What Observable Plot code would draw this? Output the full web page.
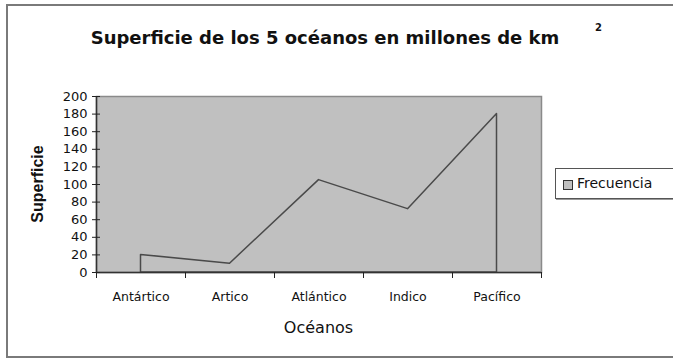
<!DOCTYPE html>
<html>
<head>
<meta charset="utf-8">
<script src="https://cdn.jsdelivr.net/npm/d3@7"></script>
<script src="https://cdn.jsdelivr.net/npm/@observablehq/plot@0.6"></script>
<style>
  body { margin: 0; background: #ffffff; }
  #wrap { position: relative; width: 673px; height: 360px; overflow: hidden; background: #fff; color: #111; }
  #border { position: absolute; left: 6px; top: 4px; width: 720px; height: 354px; border: 2px solid #7a7a7a; box-sizing: border-box; }
  #chart { position: absolute; left: 0; top: 0; }
  #title { position: absolute; left: 0; width: 650px; top: 27px; text-align: center; font: bold 18px "DejaVu Sans", sans-serif; white-space: nowrap; letter-spacing: 0px; }
  #sup { position: absolute; left: 595px; top: 22px; font: bold 10px "DejaVu Sans", sans-serif; }
  #legend { position: absolute; left: 555px; top: 168px; width: 140px; height: 31px; border: 1px solid #555; box-sizing: border-box; background: #fff; font: 14px "DejaVu Sans", sans-serif; box-shadow: 1px 1px 0 #999; }
  #legend .sw { position: absolute; left: 7px; top: 11px; width: 8px; height: 8px; background: #c0c0c0; border: 1px solid #333; }
  #legend .lb { position: absolute; left: 21px; top: 6px; white-space: nowrap; }
</style>
</head>
<body>
<div id="wrap">
  <div id="border"></div>
  <div id="chart"></div>
  <div id="title">Superficie de los 5 océanos en millones de km</div>
  <div id="sup">2</div>
  <div id="legend"><div class="sw"></div><div class="lb"></div></div>
</div>
<script>
const categories = ["Antártico", "Artico", "Atlántico", "Indico", "Pacífico"];
const superficie = [20, 10, 105, 72, 180];
const yTicks = [0, 20, 40, 60, 80, 100, 120, 140, 160, 180, 200];
const seriesName = "Frecuencia";
const xTitle = "Océanos";
const yTitle = "Superficie";

document.querySelector("#legend .lb").textContent = seriesName;

// frequency polygon: drops to zero at the first and last category
const idx = categories.map((c, i) => i + 0.5);
const poly = [
  {x: idx[0], y: 0},
  ...categories.map((c, i) => ({x: idx[i], y: superficie[i]})),
  {x: idx[idx.length - 1], y: 0}
];
const boundaries = d3.range(categories.length + 1);

const chart = Plot.plot({
  width: 673,
  height: 360,
  marginLeft: 96,
  marginRight: 132,
  marginTop: 96,
  marginBottom: 88,
  style: {fontFamily: "DejaVu Sans, sans-serif", fontSize: "12px", color: "#111", background: "transparent", overflow: "visible"},
  x: {type: "linear", domain: [0, categories.length]},
  y: {domain: [0, 200]},
  marks: [
    Plot.frame({fill: "#c0c0c0", stroke: "#8a8a8a", strokeWidth: 1.5}),
    Plot.areaY(poly, {x: "x", y: "y", fill: "#c0c0c0", stroke: "#4a4a4a", strokeWidth: 1.5}),
    Plot.ruleX([0], {stroke: "#333", strokeWidth: 1.5}),
    Plot.ruleY([0], {stroke: "#333", strokeWidth: 1.5}),
    Plot.axisY({ticks: yTicks, tickSize: 4, tickPadding: 5, label: null, stroke: "#222", fontSize: 13}),
    Plot.axisY({ticks: yTicks, tickSize: -4, text: null, label: null, stroke: "#222"}),
    Plot.axisX({ticks: boundaries, tickSize: 6, text: null, label: null, stroke: "#222"}),
    Plot.axisX({ticks: idx, tickSize: 0, tickPadding: 20, tickFormat: (d) => categories[Math.round(d - 0.5)], label: null, fontSize: 12.5})
  ]
});
document.getElementById("chart").append(chart);

// axis titles
const svg = d3.select(chart);
svg.append("text")
  .attr("x", (96 + 541) / 2).attr("y", 333)
  .attr("text-anchor", "middle")
  .style("font", "16px 'DejaVu Sans', sans-serif").attr("fill", "#111")
  .text(xTitle);
svg.append("text")
  .attr("transform", `translate(43,${(96 + 272) / 2}) rotate(-90)`)
  .attr("text-anchor", "middle")
  .style("font", "bold 16px 'Liberation Sans', sans-serif").attr("fill", "#111")
  .text(yTitle);
</script>
</body>
</html>
